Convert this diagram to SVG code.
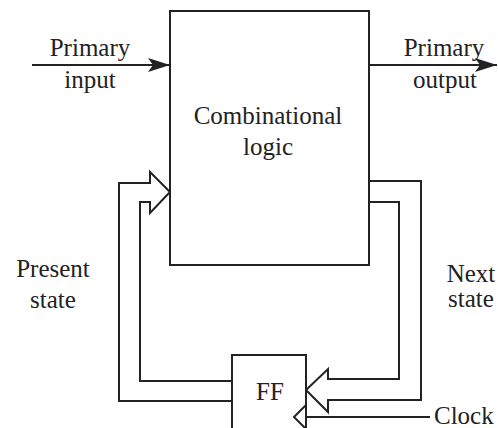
<svg xmlns="http://www.w3.org/2000/svg" width="498" height="428" viewBox="0 0 498 428">
<style>
.ln{fill:none;stroke:#222;stroke-width:2;stroke-linejoin:miter}
.box{fill:#fff;stroke:#222;stroke-width:2}
.t{font-family:'Liberation Serif','Times New Roman','DejaVu Serif',serif;font-size:25px;fill:#222;text-anchor:middle}
</style>
<defs>
<marker id="ah" markerUnits="userSpaceOnUse" markerWidth="24" markerHeight="16" refX="22" refY="7" orient="auto" viewBox="0 0 24 16">
<path d="M0,0 L22,7 L0,14 L5,7 Z" fill="#222"/>
</marker>
</defs>
<rect width="498" height="428" fill="#fff"/>
<g id="connectors">
<path class="ln" d="M32,65 H170" marker-end="url(#ah)"/>
<path class="ln" d="M369,65 H497" marker-end="url(#ah)"/>
<path class="ln" d="M232,381 H140 V202 H150 V213 L170,192 L150,172 V183 H119 V401 H232"/>
<path class="ln" d="M369,181 H421 V400 H328 V412 L306,390 L328,369 V379 H399 V202 H369"/>
<path class="ln" d="M430,417 H306"/>
</g>
<g id="comb">
<rect class="box" x="170" y="11" width="199" height="254"/>
<text class="t" x="268" y="124" font-family="Liberation Serif, serif" font-size="26">Combinational</text>
<text class="t" x="268" y="155" font-family="Liberation Serif, serif" font-size="26">logic</text>
</g>
<g id="ff">
<rect class="box" x="232" y="355" width="74" height="80"/>
<path class="ln" d="M306,405 L294,417 L306,429"/>
<text class="t" x="270" y="400" font-family="Liberation Serif, serif">FF</text>
</g>
<g id="primary-input">
<text class="t" x="90" y="56" font-family="Liberation Serif, serif">Primary</text>
<text class="t" x="90" y="88" font-family="Liberation Serif, serif">input</text>
</g>
<g id="primary-output">
<text class="t" x="444" y="56" font-family="Liberation Serif, serif">Primary</text>
<text class="t" x="445" y="88" font-family="Liberation Serif, serif">output</text>
</g>
<g id="present-state">
<text class="t" x="53" y="277" font-family="Liberation Serif, serif">Present</text>
<text class="t" x="53" y="308" font-family="Liberation Serif, serif">state</text>
</g>
<g id="next-state">
<text class="t" x="471" y="282" font-family="Liberation Serif, serif">Next</text>
<text class="t" x="471" y="307" font-family="Liberation Serif, serif">state</text>
</g>
<g id="clock">
<text class="t" x="434" y="424" font-family="Liberation Serif, serif" style="text-anchor:start">Clock</text>
</g>
</svg>
